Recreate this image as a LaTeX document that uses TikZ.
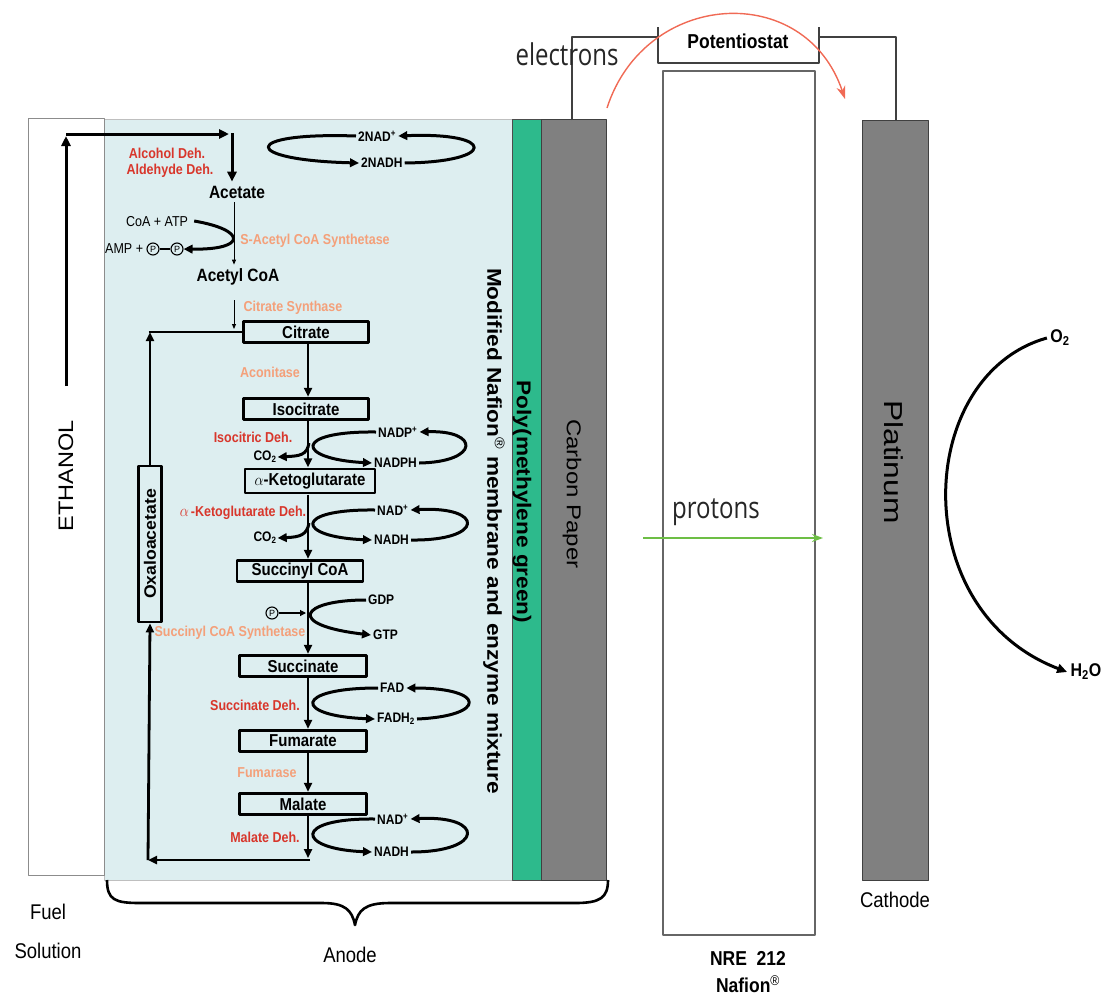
\documentclass[tikz,border=0pt]{standalone}
\usepackage{fontspec}
\setmainfont{Liberation Sans}
\newfontfamily\thinfont{Open Sans}
\usepackage{graphicx}
\usetikzlibrary{arrows.meta}
\definecolor{anodeblue}{HTML}{DDEEF0}
\definecolor{pgreen}{HTML}{2DBA8C}
\definecolor{cgray}{HTML}{808080}
\definecolor{enzred}{HTML}{D8362B}
\definecolor{salmon}{HTML}{F4A07A}
\definecolor{ered}{HTML}{F06A55}
\definecolor{pgrn}{HTML}{6DBE45}
\newcommand{\fsz}[1]{\fontsize{#1}{#1}\selectfont}
\tikzset{
  tall/.style={yscale=1.15},
  mol/.style={draw, tall, line width=2.8pt, minimum width=125pt, minimum height=18.5pt, inner sep=0pt, font=\bfseries\fsz{15}},
  enz/.style={tall, font=\bfseries\fsz{12.5}, text=enzred, inner sep=1pt},
  enzs/.style={tall, font=\bfseries\fsz{12.5}, text=salmon, inner sep=1pt},
  cof/.style={tall, font=\bfseries\fsz{12}, inner sep=2pt, anchor=west},
  flow/.style={line width=2.8pt, -{Triangle[length=9pt,width=8pt]}},
  hook/.style={line width=3pt, -{Triangle[length=9pt,width=8.5pt]}},
  thinflow/.style={line width=0.9pt, -{Triangle[length=5pt,width=4pt]}},
  wire/.style={line width=1.2pt, draw=black!75},
  pcirc/.style={circle, draw, line width=1.1pt, inner sep=0pt, minimum size=12pt, font=\fsz{9}},
  big/.style={tall, font=\fsz{18.5}},
}
\begin{document}
\begin{tikzpicture}[x=1pt,y=-1pt,line join=round]
\useasboundingbox (0,0) rectangle (1114,999);
% ---------- panels ----------
\draw[fill=anodeblue, draw=black!25, line width=0.8pt] (104,119) rectangle (512,880);
\draw[fill=white, draw=black!45, line width=1pt] (28,118) rectangle (104,875);
\draw[fill=pgreen, draw=black!70, line width=1pt] (512,119) rectangle (541,880);
\draw[fill=cgray, draw=black!75, line width=1pt] (541,119) rectangle (606,880);
\draw[fill=white, draw=black!60, line width=1.5pt] (663,71) rectangle (815,935);
\draw[fill=cgray, draw=black!75, line width=1pt] (862,120) rectangle (928,880);
% ---------- potentiostat ----------
\draw[wire] (658,27) -- (658,63) -- (819,63) -- (819,27);
\node[tall, font=\bfseries\fsz{17.5}] (pot) at (738,41) {Potentiostat};
\draw[wire] (572,120) -- (572,37) -- (658,37);
\draw[wire] (819,37) -- (896,37) -- (896,120);
% electrons
\node[font=\thinfont\fsz{30}, text=black!85] (elec) at (567,54) {\scalebox{0.8}[1]{electrons}};
\coordinate (es) at (607,108);
\coordinate (ee) at (845,99);
\draw[ered, line width=1.4pt, -{Stealth[length=13pt,width=9pt]}] (es) .. controls (645,-10) and (805,-20) .. (ee);
% protons
\node[font=\thinfont\fsz{30}, text=black!85] (prot) at (716,512) {\scalebox{0.8}[1]{protons}};
\coordinate (ps) at (643,538);
\coordinate (pe) at (823,538);
\draw[pgrn, line width=1.3pt, -{Stealth[length=11pt,width=8pt]}] (ps) -- (pe);
% ---------- rotated labels ----------
\node[rotate=90, font=\fsz{21}] (eth) at (66,476) {\scalebox{1.12}[1]{ETHANOL}};
\node[rotate=-90, font=\bfseries\fsz{20}] (mod) at (494,531) {\scalebox{1.13}[1]{Modified Nafion\textsuperscript{\normalfont®} membrane and enzyme mixture}};
\node[rotate=-90, font=\bfseries\fsz{20}] (poly) at (522,502) {\scalebox{1.13}[1]{Poly(methylene green)}};
\node[rotate=-90, font=\fsz{20}] (cp) at (572,494) {\scalebox{1.2}[1]{Carbon Paper}};
\node[rotate=-90, font=\fsz{26}] (pt) at (894,462) {\scalebox{1.22}[1]{Platinum}};
% ---------- bottom labels ----------
\draw[line width=2.6pt] (107,880) .. controls (107,900) and (115,903) .. (140,903) -- (322,903)
  .. controls (345,903) and (352,910) .. (355,925) .. controls (358,910) and (365,903) .. (390,903)
  -- (575,903) .. controls (600,903) and (608,898) .. (608,880);
\node[big] (fuel) at (48,912) {Fuel};
\node[big] (sol) at (48,951) {Solution};
\node[big] (anode) at (350,955) {Anode};
\node[big] (cath) at (895,900) {Cathode};
\node[tall, font=\bfseries\fsz{17.5}] (nre) at (748,958) {NRE\ \ 212};
\node[tall, font=\bfseries\fsz{17.5}] (naf) at (748,984) {Nafion\textsuperscript{\normalfont®}};
% O2 -> H2O
\node[tall, font=\bfseries\fsz{16}] (o2) at (1060,338) {O\textsubscript{2}};
\node[tall, font=\bfseries\fsz{16}] (h2o) at (1086,672) {H\textsubscript{2}O};
\draw[line width=3pt, -{Triangle[length=10pt,width=9pt]}] (o2.west) .. controls (915,375) and (905,610) .. (h2o.west);
% ---------- ethanol to acetate ----------
\coordinate (e1) at (66,386);
\coordinate (e2) at (66,136);
\coordinate (e3) at (66,134);
\coordinate (e4) at (229,134);
\coordinate (e5) at (232,133);
\node[tall, font=\bfseries\fsz{15.5}] (acet) at (237,192) {Acetate};
\draw[line width=3pt, -{Triangle[length=10pt,width=9pt]}] (e1) -- (e2);
\draw[line width=3pt, -{Triangle[length=10pt,width=9pt]}] (e3) -- (e4);
\draw[line width=3pt, -{Triangle[length=10pt,width=9pt]}] (e5) -- (acet.north -| e5);
\node[enz] (adh) at (167,153) {Alcohol Deh.};
\node[enz] (aldh) at (170,171) {Aldehyde Deh.};
\node[cof] (n2p) at (356,136) {2NAD\textsuperscript{+}};
\node[cof] (n2h) at (359,163) {2NADH};
\draw[hook] (n2p.west) .. controls (240,132) and (240,160) .. (n2h.west);
\draw[hook] (n2h.east) .. controls (497,162) and (497,132) .. (n2p.east);
% ---------- acetate to acetyl CoA ----------
\node[tall, font=\bfseries\fsz{15.5}] (acoa) at (238,277) {Acetyl CoA};
\draw[thinflow] (acet.south -| 234,0) -- (acoa.north -| 234,0);
\node[tall, font=\fsz{12.5}, inner sep=1pt] (coa) at (157,222) {CoA + ATP};
\node[tall, font=\fsz{12.5}, inner sep=1pt, anchor=west] (amp) at (104,249) {AMP +};
\node[pcirc] (p1) at (153,249) {P};
\node[pcirc] (p2) at (177,249) {P};
\draw[line width=1.1pt] (p1) -- (p2);
\draw[hook] ([xshift=5pt,yshift=1pt]coa.east) .. controls (247,230) and (247,250) .. (p2.east);
\node[enzs] (sacs) at (315,241) {S-Acetyl CoA Synthetase};
% ---------- TCA cycle ----------
\coordinate (ax) at (308,0);
\node[mol] (cit) at (306,332) {Citrate};
\node[mol] (iso) at (306,409) {Isocitrate};
\node[mol, minimum width=130pt, minimum height=21pt] (akg) at (310,481) {$\alpha$-Ketoglutarate};
\node[mol, minimum width=126pt] (sco) at (300,571) {Succinyl CoA};
\node[mol, minimum width=127pt] (scn) at (303,666) {Succinate};
\node[mol, minimum width=127pt] (fum) at (303,741) {Fumarate};
\node[mol, minimum width=127pt] (mal) at (303,804) {Malate};
\node[draw, line width=2.8pt, inner sep=0pt, rotate=90, minimum width=156pt, minimum height=23pt, font=\bfseries\fsz{16.5}] (oxa) at (150,544) {\scalebox{1.07}[1]{Oxaloacetate}};
\node[enzs] (csyn) at (293,308) {Citrate Synthase};
\coordinate (cs1) at (234,300);
\coordinate (cs2) at (234,329);
\draw[thinflow] (cs1) -- (cs2);
\node[enzs] (acon) at (270,372) {Aconitase};
\draw[flow] (cit.south -| ax) -- (iso.north -| ax);
\draw[flow] (iso.south -| ax) -- (akg.north -| ax);
\draw[flow] (akg.south -| ax) -- (sco.north -| ax);
\draw[flow] (sco.south -| ax) -- (scn.north -| ax);
\draw[flow] (scn.south -| ax) -- (fum.north -| ax);
\draw[flow] (fum.south -| ax) -- (mal.north -| ax);
\coordinate (mb) at (308,858);
\coordinate (br) at (310,860);
\coordinate (bl) at (148,860);
\coordinate (tl) at (150,332);
\draw[flow] (mal.south -| ax) -- (mb);
\draw[flow] (br) -- (bl);
\draw[flow] (bl) -- (oxa.west);
\draw[flow] (oxa.east) -- (tl);
\draw[line width=2.8pt] ([xshift=-1.4pt]tl) -- (cit.west);
% isocitrate -> akg
\node[enz] (icd) at (253,437) {Isocitric Deh.};
\node[tall, font=\bfseries\fsz{12}, inner sep=1pt] (co2a) at (265,457) {CO\textsubscript{2}};
\node[cof] (nadp) at (376,432) {NADP\textsuperscript{+}};
\node[cof] (nadph) at (372,463) {NADPH};
\draw[hook] (nadp.west) .. controls (292,431) and (296,459) .. (nadph.west);
\draw[hook] (nadph.east) .. controls (480,462) and (480,430) .. (nadp.east);
\coordinate (c1) at (309,443);
\draw[hook] (c1) .. controls (307,455) and (300,456) .. (co2a.east);
% akg -> succinyl CoA
\node[enz] (akgd) at (243,513) {\fsz{15}$\alpha$\fsz{12.5}\,-Ketoglutarate Deh.};
\node[tall, font=\bfseries\fsz{12}, inner sep=1pt] (co2b) at (265,538) {CO\textsubscript{2}};
\node[cof] (nad1) at (375,510) {NAD\textsuperscript{+}};
\node[cof] (nadh1) at (372,540) {NADH};
\draw[hook] (nad1.west) .. controls (292,509) and (296,537) .. (nadh1.west);
\draw[hook] (nadh1.east) .. controls (485,541) and (485,506) .. (nad1.east);
\coordinate (c2) at (309,523);
\draw[hook] (c2) .. controls (307,535) and (300,537) .. (co2b.east);
% succinyl CoA -> succinate
\node[pcirc] (pp) at (272,613) {P};
\coordinate (pa) at (306,613);
\draw[line width=1.1pt, -{Triangle[length=6pt,width=6pt]}] (pp) -- (pa);
\node[cof] (gdp) at (366,600) {GDP};
\node[cof] (gtp) at (371,635) {GTP};
\draw[hook] (gdp.west) .. controls (300,600) and (285,625) .. (gtp.west);
\node[enzs] (scs) at (230,633) {Succinyl CoA Synthetase};
% succinate -> fumarate
\node[enz] (sdh) at (255,705) {Succinate Deh.};
\node[cof] (fad) at (378,688) {FAD};
\node[cof] (fadh) at (375,719) {FADH\textsubscript{2}};
\draw[hook] (fad.west) .. controls (293,688) and (293,716) .. (fadh.west);
\draw[hook] (fadh.east) .. controls (487,716) and (487,688) .. (fad.east);
% fumarate -> malate
\node[enzs] (fmr) at (267,773) {Fumarase};
% malate -> oxaloacetate
\node[enz] (mdh) at (265,837) {Malate Deh.};
\node[cof] (nad2) at (375,819) {NAD\textsuperscript{+}};
\node[cof] (nadh2) at (372,852) {NADH};
\draw[hook] (nad2.west) .. controls (292,818) and (296,849) .. (nadh2.west);
\draw[hook] (nadh2.east) .. controls (485,852) and (485,815) .. (nad2.east);
\end{tikzpicture}
\end{document}
